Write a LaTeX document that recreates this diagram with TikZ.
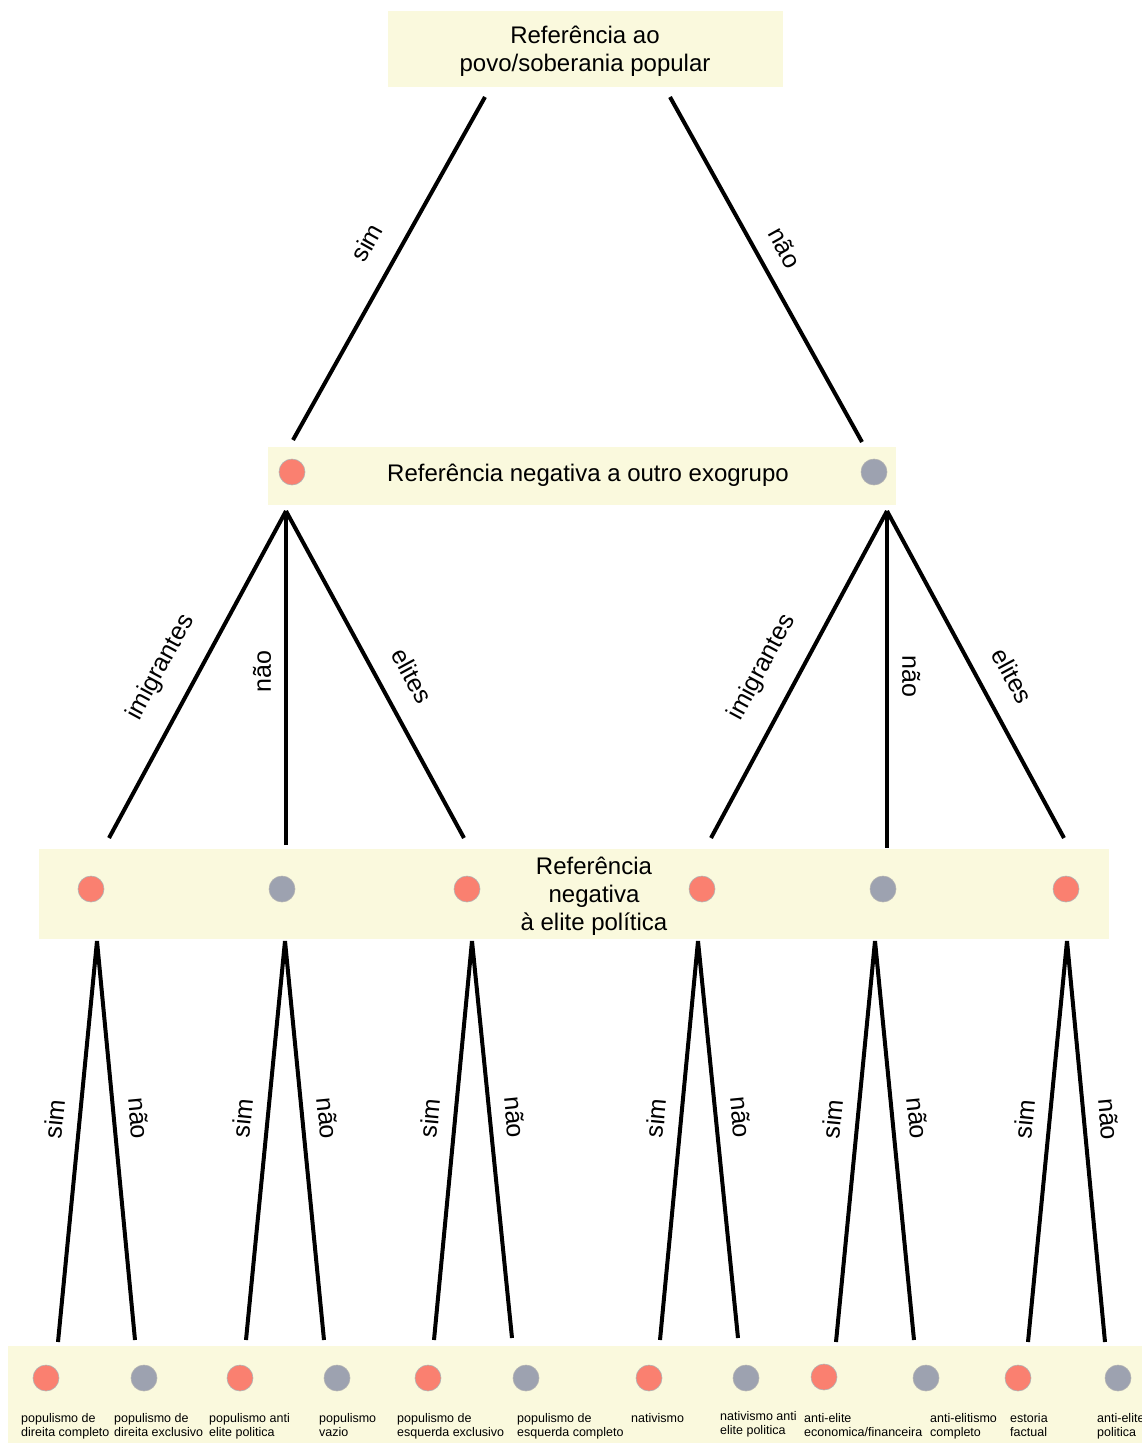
\documentclass[tikz,border=0pt]{standalone}
\usepackage{fontspec}
\setmainfont{Liberation Sans}
\definecolor{boxyellow}{RGB}{250,249,221}
\definecolor{dotred}{RGB}{250,128,112}
\definecolor{dotgray}{RGB}{157,162,176}
\tikzset{
  boxtext/.style={align=center, inner sep=0pt, font=\fontsize{24}{28}\selectfont},
  dotsim/.style={circle, fill=dotred, draw=black!30, line width=0.6pt, minimum size=26pt, inner sep=0pt},
  dotnao/.style={dotsim, fill=dotgray},
  branch/.style={line width=4pt},
  lbl/.style={sloped, anchor=south, inner xsep=0pt, inner ysep=#1, font=\fontsize{25}{28}\selectfont},
  lbl/.default=14pt,
  leaf/.style={anchor=north west, align=left, inner sep=0pt, font=\fontsize{12.5}{14}\selectfont},
}
\begin{document}
\begin{tikzpicture}[x=1pt,y=-1pt]
  \useasboundingbox (0,0) rectangle (1142,1443);
  \clip (0,0) rectangle (1142,1443);

  % caixas
  \fill[boxyellow] (388,11) rectangle (783,87);
  \fill[boxyellow] (268,447) rectangle (896,505);
  \fill[boxyellow] (39,849) rectangle (1109,939);
  \fill[boxyellow] (8,1346) rectangle (1142,1443);

  \node[boxtext] (povo) at (585,51) {Referência ao\\povo/soberania popular};
  \node[boxtext] (exogrupo) at (588,475) {Referência negativa a outro exogrupo};
  \node[boxtext] (elite) at (594,896) {Referência\\negativa\\à elite política};

  % nivel 1
  \node[dotsim] (x1) at (292,472) {};
  \node[dotnao] (x2) at (874,472) {};

  % nivel 2
  \node[dotsim] (y1) at (91,889) {};
  \node[dotnao] (y2) at (282,889) {};
  \node[dotsim] (y3) at (467,889) {};
  \node[dotsim] (y4) at (702,889) {};
  \node[dotnao] (y5) at (883,889) {};
  \node[dotsim] (y6) at (1066,889) {};

  % folhas
  \node[dotsim] (z1) at (46,1378) {};
  \node[dotnao] (z2) at (144,1378) {};
  \node[dotsim] (z3) at (240,1378) {};
  \node[dotnao] (z4) at (337,1378) {};
  \node[dotsim] (z5) at (428,1378) {};
  \node[dotnao] (z6) at (526,1378) {};
  \node[dotsim] (z7) at (649,1378) {};
  \node[dotnao] (z8) at (746,1378) {};
  \node[dotsim] (z9) at (824,1377) {};
  \node[dotnao] (z10) at (926,1378) {};
  \node[dotsim] (z11) at (1018,1378) {};
  \node[dotnao] (z12) at (1118,1378) {};

  \node[leaf] (t1) at (21,1413) {populismo de\\direita completo};
  \node[leaf] (t2) at (114,1413) {populismo de\\direita exclusivo};
  \node[leaf] (t3) at (209,1413) {populismo anti\\elite politica};
  \node[leaf] (t4) at (319,1413) {populismo\\vazio};
  \node[leaf] (t5) at (397,1413) {populismo de\\esquerda exclusivo};
  \node[leaf] (t6) at (517,1413) {populismo de\\esquerda completo};
  \node[leaf] (t7) at (631,1413) {nativismo};
  \node[leaf] (t8) at (720,1411) {nativismo anti\\elite politica};
  \node[leaf] (t9) at (804,1413) {anti-elite\\economica/financeira};
  \node[leaf] (t10) at (930,1413) {anti-elitismo\\completo};
  \node[leaf] (t11) at (1010,1413) {estoria\\factual};
  \node[leaf] (t12) at (1097,1413) {anti-elite\\politica};

  % pontas das ligacoes
  \coordinate (povoL) at (485,97);
  \coordinate (povoR) at (670,97);
  \coordinate (exoL) at (293,440);
  \coordinate (exoR) at (862,442);
  \coordinate (exoLb) at (286,511);
  \coordinate (exoRb) at (887,511);
  \coordinate (e1) at (109,838);
  \coordinate (e2) at (286,845);
  \coordinate (e3) at (464,838);
  \coordinate (e4) at (711,838);
  \coordinate (e5) at (887,848);
  \coordinate (e6) at (1064,838);
  \coordinate (f1) at (97,941);
  \coordinate (f2) at (285,941);
  \coordinate (f3) at (472,941);
  \coordinate (f4) at (698,941);
  \coordinate (f5) at (875,941);
  \coordinate (f6) at (1067,941);
  \coordinate (g1) at (58,1342);
  \coordinate (g2) at (135,1340);
  \coordinate (g3) at (246,1340);
  \coordinate (g4) at (324,1340);
  \coordinate (g5) at (434,1340);
  \coordinate (g6) at (512,1338);
  \coordinate (g7) at (660,1340);
  \coordinate (g8) at (738,1338);
  \coordinate (g9) at (836,1342);
  \coordinate (g10) at (914,1340);
  \coordinate (g11) at (1028,1342);
  \coordinate (g12) at (1105,1342);

  % ligacoes
  \draw[branch] (povoL) -- (exoL) node[lbl=21pt, pos=0.47] {sim};
  \draw[branch] (povoR) -- (exoR) node[lbl=16pt, pos=0.475] {não};

  \draw[branch] (exoLb) -- (e1) node[lbl=22pt, pos=0.53] {imigrantes};
  \draw[branch] (e2) -- (exoLb) node[lbl=13pt, pos=0.52] {não};
  \draw[branch] (exoLb) -- (e3) node[lbl=21pt, pos=0.55] {elites};
  \draw[branch] (exoRb) -- (e4) node[lbl=22pt, pos=0.53] {imigrantes};
  \draw[branch] (exoRb) -- (e5) node[lbl=13pt, pos=0.49] {não};
  \draw[branch] (exoRb) -- (e6) node[lbl=21pt, pos=0.55] {elites};

  \draw[branch] (f1) -- (g1) node[lbl, pos=0.45] {sim};
  \draw[branch] (f1) -- (g2) node[lbl, pos=0.45] {não};
  \draw[branch] (f2) -- (g3) node[lbl, pos=0.45] {sim};
  \draw[branch] (f2) -- (g4) node[lbl, pos=0.45] {não};
  \draw[branch] (f3) -- (g5) node[lbl, pos=0.45] {sim};
  \draw[branch] (f3) -- (g6) node[lbl, pos=0.45] {não};
  \draw[branch] (f4) -- (g7) node[lbl, pos=0.45] {sim};
  \draw[branch] (f4) -- (g8) node[lbl, pos=0.45] {não};
  \draw[branch] (f5) -- (g9) node[lbl, pos=0.45] {sim};
  \draw[branch] (f5) -- (g10) node[lbl, pos=0.45] {não};
  \draw[branch] (f6) -- (g11) node[lbl, pos=0.45] {sim};
  \draw[branch] (f6) -- (g12) node[lbl, pos=0.45] {não};
\end{tikzpicture}
\end{document}
